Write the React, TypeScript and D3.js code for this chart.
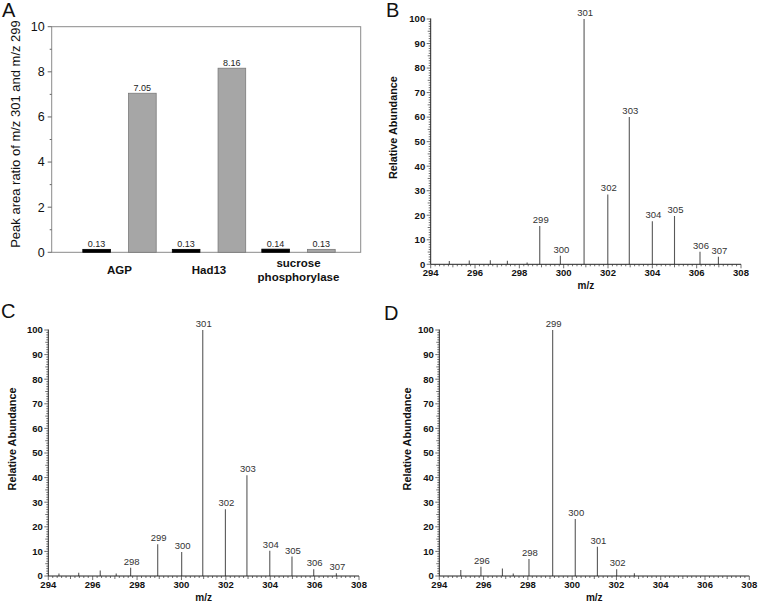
import React from 'react';
import * as d3 from 'd3';

// ---------- Panel A data ----------
const categories = ['AGP', 'Had13', 'sucrose phosphorylase'];
const ratioBlack = [0.13, 0.13, 0.14];
const ratioGray = [7.05, 8.16, 0.13];
const yTicksA = [0, 2, 4, 6, 8, 10];

// ---------- Spectra data (m/z, relative abundance, label) ----------
const mzB = [294.84, 295.74, 296.69, 297.46, 298.35, 298.92, 299.85, 300.92, 301.99, 302.96, 304.0, 305.0, 306.15, 306.98];
const intB = [1.3, 1.6, 1.7, 1.4, 0.7, 15.6, 3.5, 100, 28.5, 60, 17.6, 19.7, 5.1, 3.1];
const labB = ['', '', '', '', '', '299', '300', '301', '302', '303', '304', '305', '306', '307'];

const mzC = [294.48, 295.37, 296.34, 297.06, 297.71, 298.93, 300.01, 300.96, 301.98, 302.95, 303.98, 304.98, 305.96, 306.98];
const intC = [1.0, 1.3, 2.2, 1.0, 3.4, 12.9, 9.8, 100, 27.1, 41, 10.3, 7.9, 2.7, 1.1];
const labC = ['', '', '', '', '298', '299', '300', '301', '302', '303', '304', '305', '306', '307'];

const mzD = [294.97, 295.88, 296.85, 297.34, 298.05, 299.12, 300.14, 301.14, 302.01, 302.81];
const intD = [2.4, 3.8, 3.0, 1.0, 6.9, 100, 23.2, 11.9, 2.7, 1.1];
const labD = ['', '296', '', '', '298', '299', '300', '301', '302', ''];

const xTickLabels = [294, 296, 298, 300, 302, 304, 306, 308];
const yTickLabels = [0, 10, 20, 30, 40, 50, 60, 70, 80, 90, 100];

const FONT = "Arial, 'Liberation Sans', Helvetica, sans-serif";

type SpecProps = {
  mz: number[];
  ints: number[];
  labels: string[];
  x0: number;
  x1: number;
  yTop: number;
  yBot: number;
  titleDx: number;
  letter: string;
  letterX: number;
  letterY: number;
};

function Spectrum(p: SpecProps) {
  const x = d3.scaleLinear().domain([294, 308]).range([p.x0, p.x1]);
  const y = d3.scaleLinear().domain([0, 100]).range([p.yBot, p.yTop]);
  const minorX = d3.range(0, 71).map((i) => 294 + i * 0.2);
  const minorY = d3.range(0, 101);
  return (
    <g>
      <text x={p.letterX} y={p.letterY} fontFamily={FONT} fontSize={20} fill="#111">
        {p.letter}
      </text>
      {/* peaks */}
      {p.mz.map((m, i) => (
        <line
          key={'pk' + i}
          x1={x(m)}
          x2={x(m)}
          y1={y(0)}
          y2={y(p.ints[i])}
          stroke="#585858"
          strokeWidth={1.1}
        />
      ))}
      {p.mz.map((m, i) =>
        p.labels[i] ? (
          <text
            key={'lb' + i}
            x={x(m) + 1}
            y={y(p.ints[i]) - 3}
            textAnchor="middle"
            fontFamily={FONT}
            fontSize={9.5}
            fill="#333"
          >
            {p.labels[i]}
          </text>
        ) : null
      )}
      {/* y axis */}
      <line x1={p.x0} x2={p.x0} y1={p.yTop - 0.5} y2={p.yBot} stroke="#222" strokeWidth={1} />
      {minorY.map((v) => {
        const len = v % 10 === 0 ? 4 : v % 5 === 0 ? 3 : 2;
        return <line key={'my' + v} x1={p.x0 - len} x2={p.x0} y1={y(v)} y2={y(v)} stroke="#333" strokeWidth={0.7} />;
      })}
      {yTickLabels.map((v) => (
        <text
          key={'yl' + v}
          x={p.x0 - 5.5}
          y={y(v)}
          dy="0.35em"
          textAnchor="end"
          fontFamily={FONT}
          fontWeight="bold"
          fontSize={9.5}
          fill="#111"
        >
          {v}
        </text>
      ))}
      {/* x axis */}
      <line x1={p.x0} x2={p.x1} y1={p.yBot} y2={p.yBot} stroke="#222" strokeWidth={1} />
      {minorX.map((v, i) => {
        const len = i % 10 === 0 ? 4 : i % 5 === 0 ? 3 : 2;
        return <line key={'mx' + i} x1={x(v)} x2={x(v)} y1={p.yBot} y2={p.yBot + len} stroke="#333" strokeWidth={0.7} />;
      })}
      {xTickLabels.map((v) => (
        <text
          key={'xl' + v}
          x={x(v)}
          y={p.yBot + 12}
          textAnchor="middle"
          fontFamily={FONT}
          fontWeight="bold"
          fontSize={9.5}
          fill="#111"
        >
          {v}
        </text>
      ))}
      <text
        x={(p.x0 + p.x1) / 2}
        y={p.yBot + 25}
        textAnchor="middle"
        fontFamily={FONT}
        fontWeight="bold"
        fontSize={10}
        fill="#111"
      >
        m/z
      </text>
      <text
        transform={`translate(${p.x0 + p.titleDx},${(p.yTop + p.yBot) / 2 - 14}) rotate(-90)`}
        textAnchor="middle"
        dy="0.35em"
        fontFamily={FONT}
        fontWeight="bold"
        fontSize={10.8}
        fill="#111"
      >
        Relative Abundance
      </text>
    </g>
  );
}

function PanelA() {
  const left = 51.7;
  const right = 360.7;
  const top = 26.7;
  const bottom = 252.3;
  const y = d3.scaleLinear().domain([0, 10]).range([bottom, top]);
  const xg = d3.scaleBand().domain(categories).range([74.75, 343.25]);
  const xs = d3
    .scaleBand()
    .domain(['black', 'gray'])
    .range([0, xg.bandwidth()])
    .paddingInner(0.396)
    .paddingOuter(0.176);
  const minor = [1, 3, 5, 7, 9];
  const series = [
    { key: 'black', vals: ratioBlack, fill: '#000', stroke: '#000' },
    { key: 'gray', vals: ratioGray, fill: '#a6a6a6', stroke: '#7a7a7a' },
  ];
  return (
    <g>
      <text x={2} y={17} fontFamily={FONT} fontSize={20} fill="#111">
        A
      </text>
      <rect x={left} y={top} width={right - left} height={bottom - top} fill="none" stroke="#8a8a8a" strokeWidth={1} />
      {yTicksA.map((v) => (
        <g key={'ya' + v}>
          <line x1={left - 4} x2={left} y1={y(v)} y2={y(v)} stroke="#666" />
          <text
            x={left - 7}
            y={y(v)}
            dy="0.35em"
            textAnchor="end"
            fontFamily={FONT}
            fontSize={12.5}
            fill="#111"
          >
            {v}
          </text>
        </g>
      ))}
      {minor.map((v) => (
        <line key={'ma' + v} x1={left - 2} x2={left} y1={y(v)} y2={y(v)} stroke="#666" />
      ))}
      {series.map((s) =>
        categories.map((c, i) => {
          const bx = (xg(c) as number) + (xs(s.key) as number);
          const bw = xs.bandwidth();
          return (
            <g key={s.key + c}>
              <rect
                x={bx}
                y={y(s.vals[i])}
                width={bw}
                height={bottom - y(s.vals[i])}
                fill={s.fill}
                stroke={s.stroke}
                strokeWidth={0.8}
              />
              <text
                x={bx + bw / 2}
                y={y(s.vals[i]) - 2.5}
                textAnchor="middle"
                fontFamily={FONT}
                fontSize={9}
                fill="#222"
              >
                {s.vals[i].toFixed(2)}
              </text>
            </g>
          );
        })
      )}
      {categories.map((c) => {
        const cx = (xg(c) as number) + xg.bandwidth() / 2;
        const parts = c.split(' ');
        if (parts.length === 1) {
          return (
            <text key={'cl' + c} x={cx} y={274} textAnchor="middle" fontFamily={FONT} fontWeight="bold" fontSize={11.5} fill="#111">
              {c}
            </text>
          );
        }
        return (
          <text key={'cl' + c} x={cx} textAnchor="middle" fontFamily={FONT} fontWeight="bold" fontSize={11.5} fill="#111">
            <tspan x={cx} y={267}>{parts[0]}</tspan>
            <tspan x={cx} y={281}>{parts[1]}</tspan>
          </text>
        );
      })}
      <text
        transform={`translate(15,134) rotate(-90)`}
        textAnchor="middle"
        dy="0.35em"
        fontFamily={FONT}
        fontSize={13}
        fill="#111"
      >
        Peak area ratio of m/z 301 and m/z 299
      </text>
    </g>
  );
}

export default function App() {
  return (
    <svg
      width={760}
      height={605}
      viewBox="0 0 760 605"
      style={{ position: 'absolute', left: 0, top: 0, background: '#fff' }}
    >
      <rect x={0} y={0} width={760} height={605} fill="#fff" />
      <PanelA />
      <Spectrum
        mz={mzB}
        ints={intB}
        labels={labB}
        x0={430.7}
        x1={741}
        yTop={19}
        yBot={264.3}
        titleDx={-37.5}
        letter="B"
        letterX={386}
        letterY={17}
      />
      <Spectrum
        mz={mzC}
        ints={intC}
        labels={labC}
        x0={48.3}
        x1={359}
        yTop={330}
        yBot={576}
        titleDx={-36}
        letter="C"
        letterX={1}
        letterY={318}
      />
      <Spectrum
        mz={mzD}
        ints={intD}
        labels={labD}
        x0={439.3}
        x1={749.3}
        yTop={330}
        yBot={576}
        titleDx={-32.5}
        letter="D"
        letterX={384}
        letterY={320}
      />
    </svg>
  );
}
